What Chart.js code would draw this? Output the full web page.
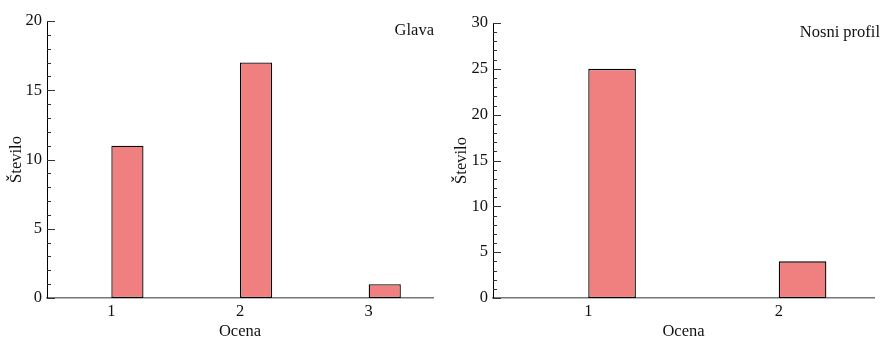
<!DOCTYPE html>
<html>
<head>
<meta charset="utf-8">
<script src="https://cdn.jsdelivr.net/npm/chart.js@4.4.0/dist/chart.umd.min.js"></script>
<style>
  html, body { margin: 0; padding: 0; background: #fff; }
  .wrap { position: absolute; top: 0; width: 441px; height: 338px; }
  #leftWrap { left: 0; }
  #rightWrap { left: 441px; }
</style>
</head>
<body>
<div class="wrap" id="leftWrap"><canvas id="glavaChart"></canvas></div>
<div class="wrap" id="rightWrap"><canvas id="nosChart"></canvas></div>
<script>
// --- data ---
const glavaCategories = ["1", "2", "3"];
const glavaCounts = [11, 17, 1];
const glavaYMax = 20;

const nosCategories = ["1", "2"];
const nosCounts = [25, 4];
const nosYMax = 30;

const yMajorStep = 5;
const yMinorStep = 1;

const xTitle = "Ocena";
const yTitle = "Število";

const FONT = "'Liberation Serif', 'Times New Roman', serif";

// inward ticks on the y axis + the panel label in the corner
const innerTicksPlugin = {
  id: "innerTicks",
  afterDraw(chart, args, opts) {
    const { ctx, chartArea } = chart;
    const y = chart.scales.y;
    ctx.save();
    ctx.strokeStyle = "#333";
    ctx.lineWidth = 1;
    for (let v = y.min; v <= y.max; v += yMinorStep) {
      const py = Math.round(y.getPixelForValue(v)) + 0.5;
      const len = v % yMajorStep === 0 ? 8 : 4;
      ctx.beginPath();
      ctx.moveTo(chartArea.left, py);
      ctx.lineTo(chartArea.left + len, py);
      ctx.stroke();
    }
    // panel label
    ctx.fillStyle = "#111";
    ctx.font = "16.5px " + FONT;
    ctx.textAlign = "right";
    ctx.textBaseline = "middle";
    ctx.fillText(opts.label, opts.labelX, opts.labelY);
    ctx.restore();
  },
};

function makeChart(id, categories, counts, yMax, label, yWidth, yTitlePad, top, labelX, labelY) {
  return new Chart(document.getElementById(id), {
    type: "bar",
    data: {
      labels: categories,
      datasets: [
        // empty spacer so the real bar sits just right of each tick
        { label: "", data: categories.map(() => null) },
        {
          label: "count",
          data: counts,
          backgroundColor: "#F08080",
          borderColor: "#000",
          borderWidth: 1.3,
          borderSkipped: false,
        },
      ],
    },
    options: {
      responsive: true,
      maintainAspectRatio: false,
      animation: false,
      events: [],
      datasets: { bar: { categoryPercentage: 0.5, barPercentage: 1.0 } },
      layout: { padding: { left: 0, right: 8, top: top, bottom: 0 } },
      plugins: {
        legend: { display: false },
        tooltip: { enabled: false },
        innerTicks: { label, labelX, labelY },
      },
      scales: {
        x: {
          grid: { display: false, drawTicks: false },
          border: { display: true, color: "#777", width: 1.5 },
          ticks: { color: "#111", font: { family: FONT, size: 16.5 }, padding: 4 },
          title: {
            display: true,
            text: xTitle,
            color: "#111",
            font: { family: FONT, size: 16.5 },
            padding: { top: 0, bottom: -4 },
          },
          afterFit: (s) => { s.height = 40; },
        },
        y: {
          min: 0,
          max: yMax,
          grid: { display: false, drawTicks: false },
          border: { display: true, color: "#000", width: 1 },
          ticks: {
            stepSize: yMajorStep,
            color: "#111",
            font: { family: FONT, size: 16.5 },
            padding: 5,
          },
          title: {
            display: true,
            text: yTitle,
            color: "#111",
            font: { family: FONT, size: 16.5 },
            padding: { top: yTitlePad, bottom: 0 },
          },
          afterFit: (s) => { s.width = yWidth; },
        },
      },
    },
    plugins: [innerTicksPlugin],
  });
}

makeChart("glavaChart", glavaCategories, glavaCounts, glavaYMax, "Glava", 47, 7, 21, 434, 31);
makeChart("nosChart", nosCategories, nosCounts, nosYMax, "Nosni profil", 52, 11, 23, 439, 33);
</script>
</body>
</html>
